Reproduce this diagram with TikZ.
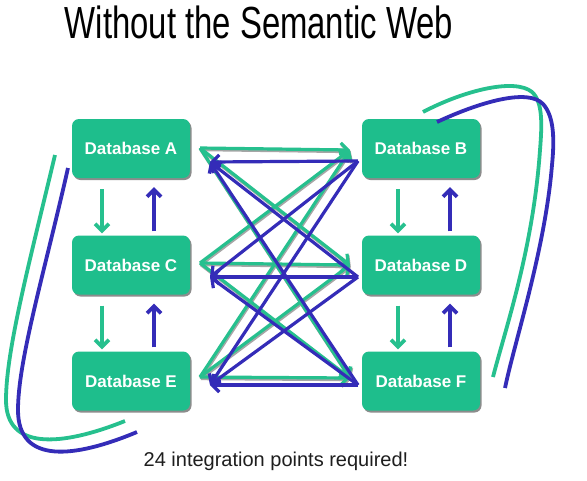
\documentclass[tikz,border=0pt]{standalone}
\usepackage{fontspec}
\setmainfont{Liberation Sans}
\usetikzlibrary{arrows.meta,shadows}
\definecolor{boxgreen}{RGB}{30,190,140}
\definecolor{lgreen}{RGB}{38,192,142}
\definecolor{lblue}{RGB}{52,44,184}
\definecolor{txt}{RGB}{30,30,30}
\begin{document}
\begin{tikzpicture}[x=1pt,y=-1pt,
  dbbox/.style={draw=none,fill=boxgreen,rounded corners=7pt,minimum width=118pt,minimum height=59pt,
    inner sep=0pt,text=white,font=\fontsize{17}{19}\selectfont\bfseries,
    drop shadow={shadow xshift=1.5pt,shadow yshift=-2pt,fill=black!45,opacity=1}},
  garrow/.style={draw=lgreen,line width=3.2pt,-{Straight Barb[length=7pt,width=14pt]}},
  barrow/.style={draw=lblue,line width=3.2pt,-{Straight Barb[length=7pt,width=14pt]}},
  gshadow/.style={draw=black!35,line width=3.2pt,transform canvas={shift={(0.8pt,-1.6pt)}},-{Straight Barb[length=7pt,width=14pt]}},
  vgreen/.style={draw=lgreen,line width=3.6pt,-{Straight Barb[length=7pt,width=14pt]}},
  vblue/.style={draw=lblue,line width=3.6pt,-{Straight Barb[length=7pt,width=14pt]}},
  gcurve/.style={draw=lgreen,line width=3.8pt},
  bcurve/.style={draw=lblue,line width=3.8pt}]
\useasboundingbox (0,0) rectangle (587,480);
\fill[white] (0,0) rectangle (587,480);

\node[font=\fontsize{45}{50}\selectfont,xscale=0.73,anchor=base,text=black] (title) at (259,38) {Without the Semantic Web};

\node[dbbox] (A) at (131,148.5) {Database A};
\node[dbbox] (C) at (131,265) {Database C};
\node[dbbox] (E) at (131,381) {Database E};
\node[dbbox] (B) at (421,148.5) {Database B};
\node[dbbox] (D) at (421,265) {Database D};
\node[dbbox] (F) at (421,381) {Database F};

% vertical arrows
\draw[vgreen,shorten <=11pt,shorten >=2pt] ([xshift=-29pt]A.south) -- ([xshift=-29pt]C.north);
\draw[vblue,shorten <=4pt,shorten >=9pt] ([xshift=23pt]C.north) -- ([xshift=23pt]A.south);
\draw[vgreen,shorten <=11pt,shorten >=2pt] ([xshift=-29pt]C.south) -- ([xshift=-29pt]E.north);
\draw[vblue,shorten <=4pt,shorten >=9pt] ([xshift=23pt]E.north) -- ([xshift=23pt]C.south);
\draw[vgreen,shorten <=11pt,shorten >=2pt] ([xshift=-23pt]B.south) -- ([xshift=-23pt]D.north);
\draw[vblue,shorten <=4pt,shorten >=9pt] ([xshift=29pt]D.north) -- ([xshift=29pt]B.south);
\draw[vgreen,shorten <=11pt,shorten >=2pt] ([xshift=-23pt]D.south) -- ([xshift=-23pt]F.north);
\draw[vblue,shorten <=4pt,shorten >=9pt] ([xshift=29pt]F.north) -- ([xshift=29pt]D.south);

% crossing endpoints
\coordinate (gA) at (200,148);
\coordinate (gC) at (200,263);
\coordinate (gE) at (200,377);
\coordinate (gB) at (350,150);
\coordinate (gD) at (350,265);
\coordinate (gF) at (350,378);
\coordinate (bB) at (358,161);
\coordinate (bD) at (358,277);
\coordinate (bF) at (358,385);
\coordinate (bA) at (210,162);
\coordinate (bC) at (210,277);
\coordinate (bE) at (210,385);

\foreach \s in {gA,gC,gE}{\foreach \t in {gB,gD,gF}{\draw[gshadow] (\s) -- (\t);}}
\foreach \s in {gA,gC,gE}{\foreach \t in {gB,gD,gF}{\draw[garrow] (\s) -- (\t);}}
\foreach \s in {bB,bD,bF}{\foreach \t in {bA,bC,bE}{\draw[barrow] (\s) -- (\t);}}

% curved lines
\coordinate (lg1) at (55,155);
\coordinate (lg2) at (125,421);
\coordinate (lb1) at (68,168);
\coordinate (lb2) at (137,432);
\draw[gcurve] (lg1) .. controls (30,260) and (6,350) .. (6,400) .. controls (6,450) and (60,447) .. (lg2);
\draw[bcurve] (lb1) .. controls (45,270) and (18,360) .. (18,410) .. controls (18,465) and (75,458) .. (lb2);

\coordinate (rg1) at (423,112);
\coordinate (rg2) at (493,377);
\coordinate (rb1) at (437,122);
\coordinate (rb2) at (505,388);
\draw[gcurve] (rg1) .. controls (465,90) and (515,78) .. (532,92) .. controls (543,102) and (542,125) .. (540,150) .. controls (533,250) and (505,330) .. (rg2);
\draw[bcurve] (rb1) .. controls (480,102) and (528,88) .. (543,104) .. controls (553,115) and (555,135) .. (552,165) .. controls (545,250) and (515,340) .. (rb2);

\node[font=\fontsize{20}{24}\selectfont,text=txt,anchor=base] (note) at (276,466) {24 integration points required!};
\end{tikzpicture}
\end{document}
